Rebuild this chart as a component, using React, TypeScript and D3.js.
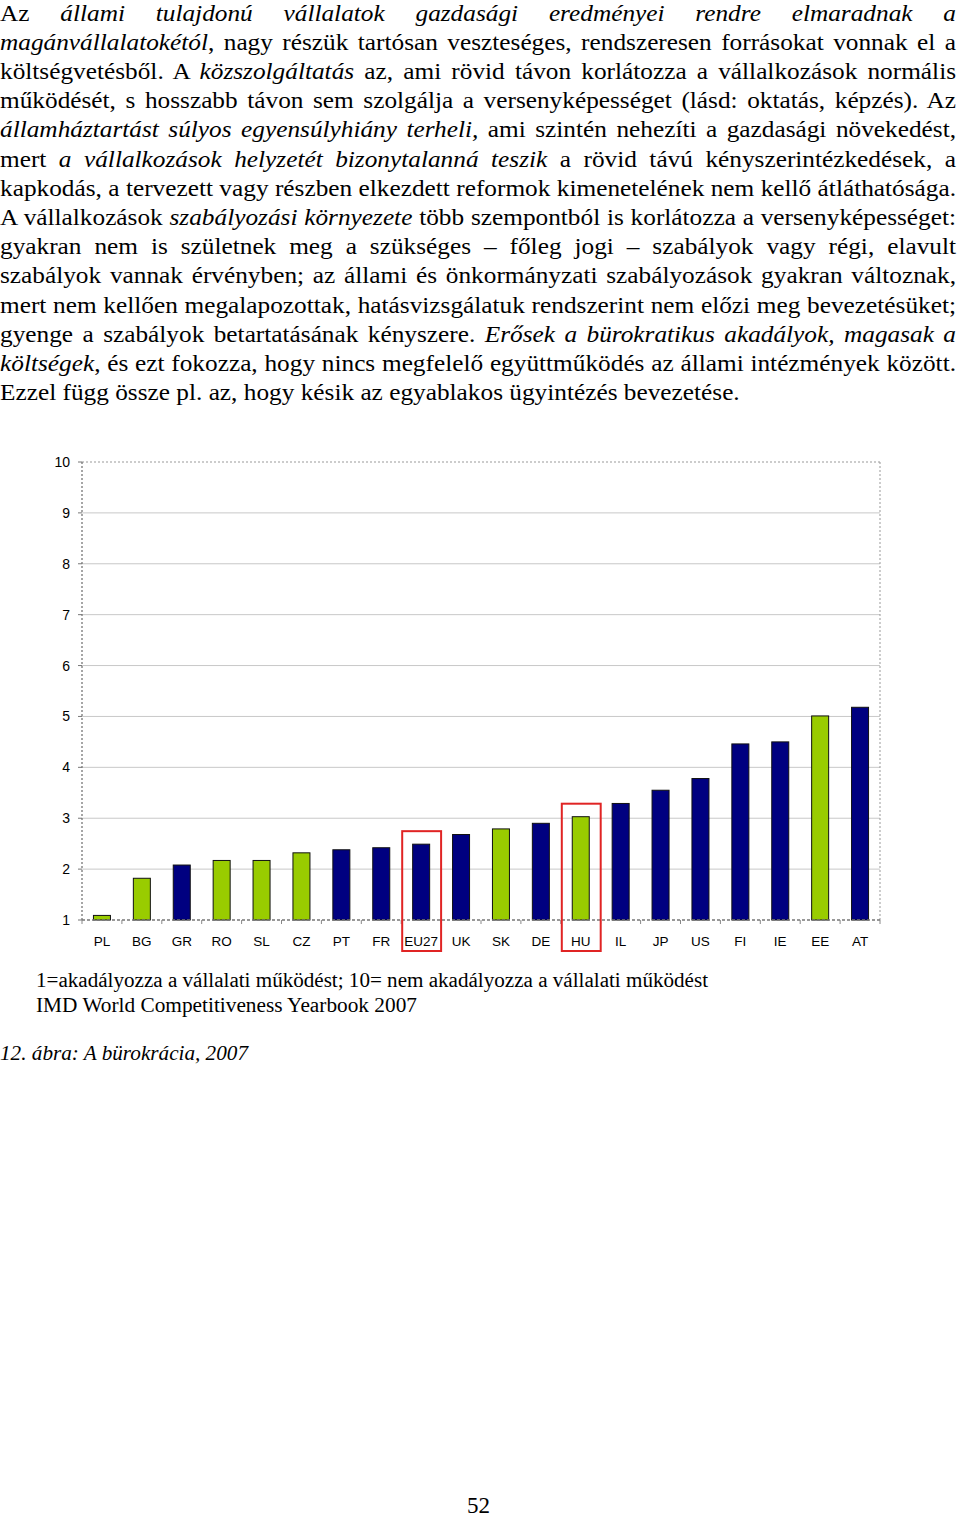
import React, { useLayoutEffect, useRef } from "react";
import * as d3 from "d3";

const categories = ["PL","BG","GR","RO","SL","CZ","PT","FR","EU27","UK","SK","DE","HU","IL","JP","US","FI","IE","EE","AT"];
const values = [1.09,1.82,2.08,2.17,2.17,2.32,2.38,2.42,2.49,2.68,2.79,2.90,3.03,3.29,3.55,3.78,4.46,4.50,5.01,5.18];
const groups = ["new","new","old","new","new","new","old","old","old","old","new","old","new","old","old","old","old","old","new","old"];
const highlighted = ["EU27","HU"];
const yTicks = [1,2,3,4,5,6,7,8,9,10];

type Seg = [string, boolean];
const paragraphLines: Seg[][] = [
  [["Az ", false], ["állami tulajdonú vállalatok gazdasági eredményei rendre elmaradnak a", true]],
  [["magánvállalatokétól", true], [", nagy részük tartósan veszteséges, rendszeresen forrásokat vonnak el a", false]],
  [["költségvetésből. A ", false], ["közszolgáltatás", true], [" az, ami rövid távon korlátozza a vállalkozások normális", false]],
  [["működését, s hosszabb távon sem szolgálja a versenyképességet (lásd: oktatás, képzés). Az", false]],
  [["államháztartást súlyos egyensúlyhiány terheli,", true], [" ami szintén nehezíti a gazdasági növekedést,", false]],
  [["mert ", false], ["a vállalkozások helyzetét bizonytalanná teszik", true], [" a rövid távú kényszerintézkedések, a", false]],
  [["kapkodás, a tervezett vagy részben elkezdett reformok kimenetelének nem kellő átláthatósága.", false]],
  [["A vállalkozások ", false], ["szabályozási környezete", true], [" több szempontból is korlátozza a versenyképességet:", false]],
  [["gyakran nem is születnek meg a szükséges – főleg jogi – szabályok vagy régi, elavult", false]],
  [["szabályok vannak érvényben; az állami és önkormányzati szabályozások gyakran változnak,", false]],
  [["mert nem kellően megalapozottak, hatásvizsgálatuk rendszerint nem előzi meg bevezetésüket;", false]],
  [["gyenge a szabályok betartatásának kényszere. ", false], ["Erősek a bürokratikus akadályok, magasak a", true]],
  [["költségek", true], [", és ezt fokozza, hogy nincs megfelelő együttműködés az állami intézmények között.", false]],
  [["Ezzel függ össze pl. az, hogy késik az egyablakos ügyintézés bevezetése.", false]],
];
const noteLines = [
  "1=akadályozza a vállalati működést; 10= nem akadályozza a vállalati működést",
  "IMD World Competitiveness Yearbook 2007",
];
const figureCaption = "12. ábra: A bürokrácia, 2007";
const pageNumber = "52";

const W = 960, H = 1519;
const serif = "'Liberation Serif', 'Times New Roman', serif";
const sans = "'Liberation Sans', Arial, sans-serif";
const GREEN = "#99cc00";
const NAVY = "#000080";

export default function App() {
  const lineRefs = useRef<(SVGTextElement | null)[]>([]);
  const groupRef = useRef<SVGGElement | null>(null);

  useLayoutEffect(() => {
    const last = lineRefs.current[paragraphLines.length - 1];
    let scale = 1;
    if (last) {
      const nat = last.getComputedTextLength();
      if (nat > 0) scale = 740 / nat;
    }
    if (groupRef.current) groupRef.current.setAttribute("transform", `scale(${scale},1)`);
    const target = 956 / scale;
    lineRefs.current.forEach((el, i) => {
      if (!el) return;
      if (i === paragraphLines.length - 1) return;
      el.setAttribute("word-spacing", "0");
      const natural = el.getComputedTextLength();
      const txt = el.textContent || "";
      const spaces = (txt.match(/ /g) || []).length;
      if (spaces > 0) {
        const ws = (target - natural) / spaces;
        el.setAttribute("word-spacing", String(ws));
      }
    });
  }, []);

  const x = d3.scaleBand<string>().domain(categories).range([82, 880]).padding(0);
  const y = d3.scaleLinear().domain([1, 10]).range([920, 462]);
  const barW = 17;
  const bw = x.bandwidth();

  return (
    <svg width={W} height={H} style={{ position: "absolute", left: 0, top: 0, background: "#fff" }}>
      <rect x={0} y={0} width={W} height={H} fill="#fff" />
      {/* paragraph */}
      <g ref={groupRef} fontFamily={serif} fontSize={23} fill="#000">
        {paragraphLines.map((segs, i) => (
          <text
            key={i}
            ref={(el) => { lineRefs.current[i] = el; }}
            x={0}
            y={20.6 + i * 29.2}
            style={{ whiteSpace: "pre" }}
          >
            {segs.map(([t, it], j) => (
              <tspan key={j} fontStyle={it ? "italic" : "normal"}>{t}</tspan>
            ))}
          </text>
        ))}
      </g>

      {/* chart */}
      <g>
        {yTicks.filter((t) => t > 1 && t < 10).map((t) => (
          <line key={t} x1={82} x2={880} y1={y(t)} y2={y(t)} stroke="#c8c8c8" strokeWidth={1} />
        ))}
        <line x1={82} x2={880} y1={y(10)} y2={y(10)} stroke="#999" strokeWidth={1} strokeDasharray="2,2" />
        <line x1={880} x2={880} y1={y(10)} y2={y(1)} stroke="#999" strokeWidth={1} strokeDasharray="2,2" />
        {yTicks.map((t) => (
          <g key={t}>
            <line x1={78} x2={82} y1={y(t)} y2={y(t)} stroke="#777" strokeWidth={1} />
            <text x={70} y={y(t) + 5} textAnchor="end" fontFamily={sans} fontSize={14} fill="#000">{t}</text>
          </g>
        ))}
        {categories.map((c, i) => (
          <rect
            key={c}
            x={(x(c) as number) + bw / 2 - barW / 2}
            y={y(values[i])}
            width={barW}
            height={y(1) - y(values[i])}
            fill={groups[i] === "new" ? GREEN : NAVY}
            stroke="#111"
            strokeWidth={1}
          />
        ))}
        <line x1={82} x2={82} y1={y(10)} y2={y(1)} stroke="#777" strokeWidth={1.3} strokeDasharray="2,2" />
        <line x1={82} x2={880} y1={y(1)} y2={y(1)} stroke="#777" strokeWidth={1.3} strokeDasharray="3,2" />
        {categories.concat(["_end"]).map((c, i) => {
          const xx = 82 + i * bw;
          return <line key={"t" + i} x1={xx} x2={xx} y1={y(1)} y2={y(1) + 4} stroke="#888" strokeWidth={1} />;
        })}
        {categories.map((c) => (
          <text key={"l" + c} x={(x(c) as number) + bw / 2} y={946} textAnchor="middle" fontFamily={sans} fontSize={13.5} fill="#000">{c}</text>
        ))}
        {categories.map((c, i) =>
          highlighted.includes(c) ? (
            <rect
              key={"h" + c}
              x={(x(c) as number) + 1}
              y={y(values[i]) - 13}
              width={bw - 1}
              height={951 - (y(values[i]) - 13)}
              fill="none"
              stroke="#e02424"
              strokeWidth={2}
            />
          ) : null
        )}
      </g>

      {/* notes */}
      <g fontFamily={serif} fontSize={20} fill="#000">
        <text x={36} y={987} textLength={672} lengthAdjust="spacingAndGlyphs">{noteLines[0]}</text>
        <text x={36} y={1012} textLength={381} lengthAdjust="spacingAndGlyphs">{noteLines[1]}</text>
        <text x={0} y={1060} fontStyle="italic" textLength={248} lengthAdjust="spacingAndGlyphs">{figureCaption}</text>
        <text x={478.5} y={1513} fontSize={23} textAnchor="middle">{pageNumber}</text>
      </g>
    </svg>
  );
}
